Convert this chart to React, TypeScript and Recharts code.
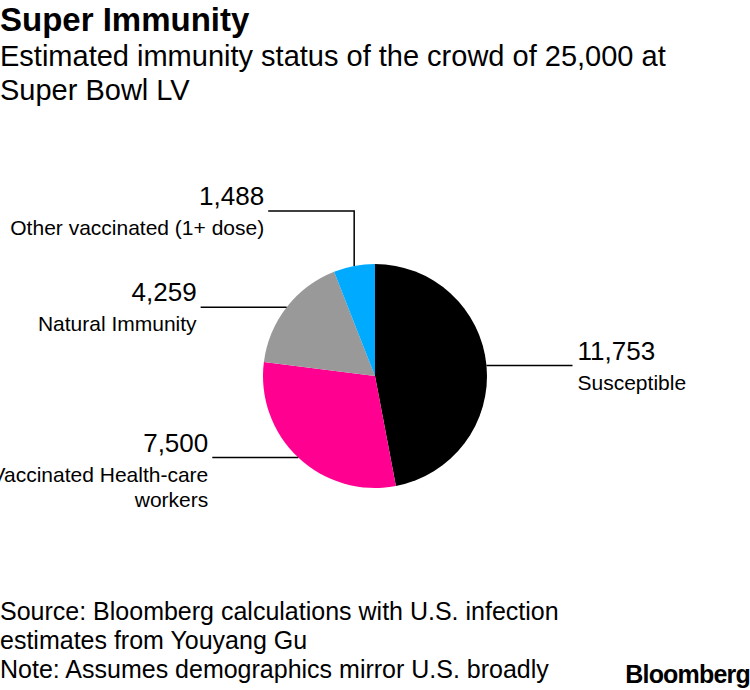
import { PieChart, Pie, Cell } from "recharts";

const categories = [
  "Susceptible",
  "Vaccinated Health-care workers",
  "Natural Immunity",
  "Other vaccinated (1+ dose)",
];
const values = [11753, 7500, 4259, 1488];
const labelLines = [
  ["Susceptible"],
  ["Vaccinated Health-care", "workers"],
  ["Natural Immunity"],
  ["Other vaccinated (1+ dose)"],
];

const colors = ["#000000", "#ff0090", "#999999", "#00aaff"];
// extra vertical rise of the leader line before it turns sideways
const elbows = [0, 0, 0, 55];

const FONT = "'Liberation Sans', Arial, sans-serif";
const RAD = Math.PI / 180;

const data = categories.map((name, i) => ({ name, value: values[i] }));

function renderLabel(props: any) {
  const { cx, cy, midAngle, outerRadius, index, value } = props;
  const sx = cx + outerRadius * Math.cos(-midAngle * RAD);
  const sy = cy + outerRadius * Math.sin(-midAngle * RAD);
  const left = Math.cos(-midAngle * RAD) < 0;
  const my = sy - elbows[index];
  const ex = left ? sx - 86 : sx + 86;
  const tx = left ? ex - 4 : ex + 5;
  const anchor = left ? "end" : "start";
  return (
    <g key={`lbl-${index}`}>
      <polyline
        points={`${sx},${sy} ${sx},${my} ${ex},${my}`}
        fill="none"
        stroke="#000"
        strokeWidth={1.5}
      />
      <text x={tx} y={my - 6} textAnchor={anchor} fontSize={26} fill="#000" fontFamily={FONT}>
        {value.toLocaleString("en-US")}
      </text>
      {labelLines[index].map((line, j) => (
        <text
          key={j}
          x={tx}
          y={my + 24 + j * 25}
          textAnchor={anchor}
          fontSize={21}
          fill="#000"
          fontFamily={FONT}
        >
          {line}
        </text>
      ))}
    </g>
  );
}

export default function App() {
  return (
    <div style={{ position: "absolute", left: 0, top: 0, width: 750, height: 690, background: "#fff" }}>
      <PieChart width={750} height={690} margin={{ top: 0, right: 0, bottom: 0, left: 0 }}>
        <Pie
          data={data}
          dataKey="value"
          nameKey="name"
          cx={375}
          cy={376}
          outerRadius={112}
          startAngle={90}
          endAngle={-270}
          stroke="none"
          label={renderLabel}
          labelLine={false}
          isAnimationActive={false}
        >
          {data.map((_, i) => (
            <Cell key={i} fill={colors[i]} />
          ))}
        </Pie>
      </PieChart>
      <svg
        width={750}
        height={690}
        style={{ position: "absolute", left: 0, top: 0, pointerEvents: "none" }}
        fontFamily={FONT}
      >
        <text x={0} y={31} fontSize={33} fontWeight="bold">Super Immunity</text>
        <text x={0} y={66} fontSize={29}>Estimated immunity status of the crowd of 25,000 at</text>
        <text x={0} y={100} fontSize={29}>Super Bowl LV</text>
        <text x={0} y={620} fontSize={25}>Source: Bloomberg calculations with U.S. infection</text>
        <text x={0} y={649} fontSize={25}>estimates from Youyang Gu</text>
        <text x={0} y={678} fontSize={25}>Note: Assumes demographics mirror U.S. broadly</text>
        <text x={750} y={683} fontSize={25} fontWeight="bold" textAnchor="end" letterSpacing={-0.8}>
          Bloomberg
        </text>
      </svg>
    </div>
  );
}
